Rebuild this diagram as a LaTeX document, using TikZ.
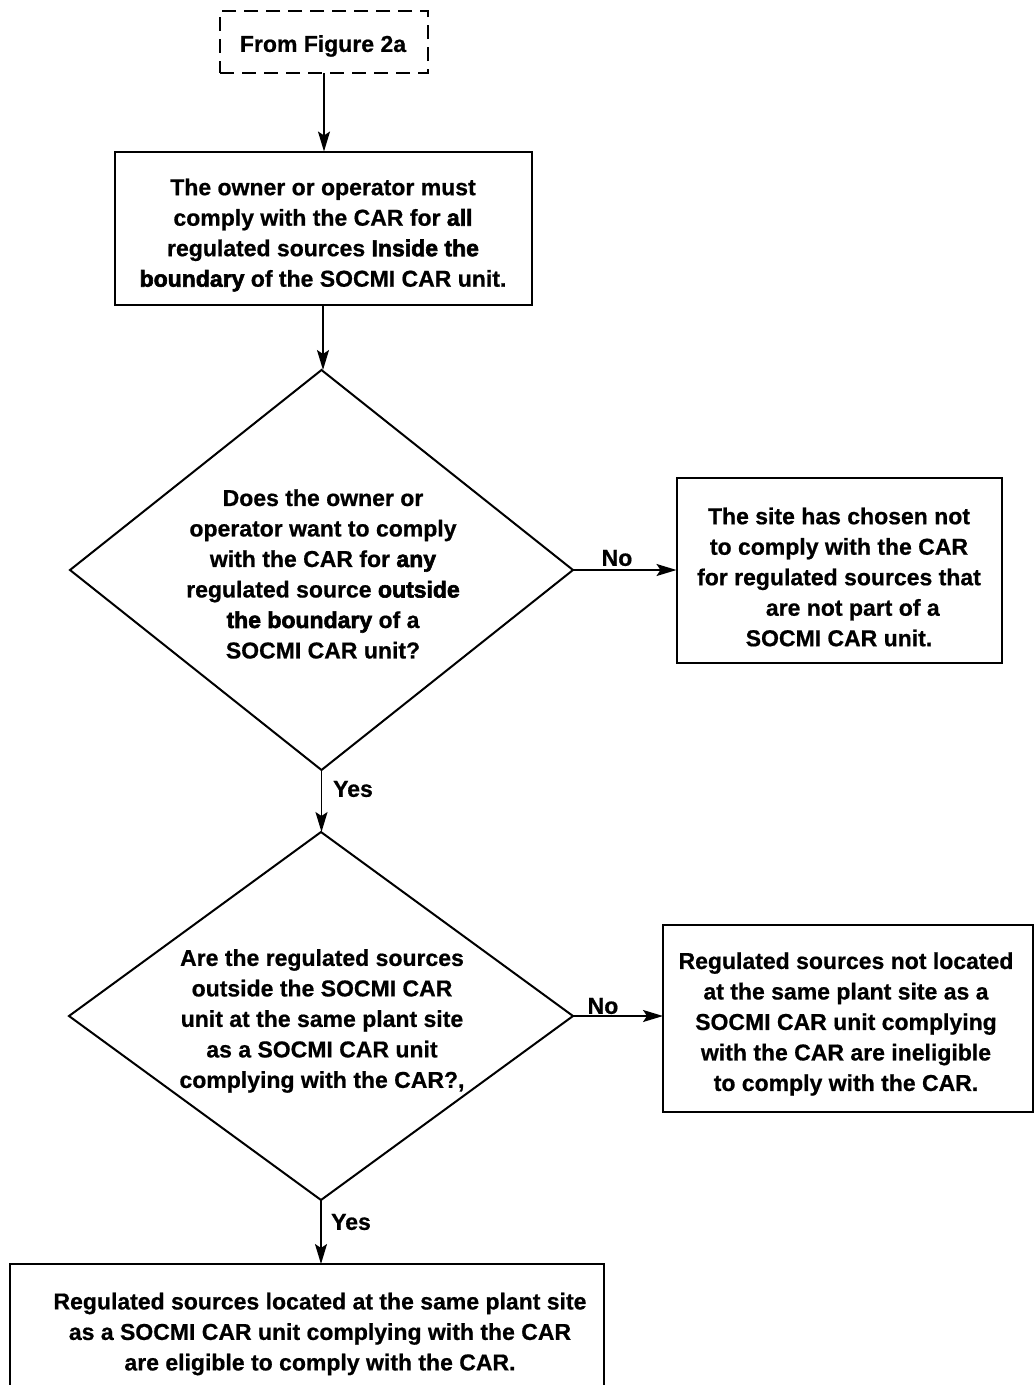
\documentclass[tikz,border=0pt]{standalone}
\usepackage{fontspec}
\setmainfont{Liberation Sans}[BoldFeatures={FakeBold=0.7}]
\newfontfamily\heavyfont{Liberation Sans Bold}[FakeBold=2.6]
\newcommand{\hv}[1]{{\heavyfont #1}}
\usetikzlibrary{shapes.geometric,arrows.meta}
\begin{document}
\begin{tikzpicture}[x=1pt,y=-1pt,
  box/.style={draw, line width=2pt, inner sep=0pt, outer sep=0pt},
  dec/.style={draw, diamond, line width=2pt, inner sep=0pt, outer sep=0pt},
  txt/.style={font=\fontsize{23}{30.5}\selectfont\bfseries, align=center, inner sep=0pt},
  lbl/.style={font=\fontsize{23}{28}\selectfont\bfseries, inner sep=0pt},
  arr/.style={line width=1.8pt, -{Stealth[length=20pt,width=12pt,inset=4pt]}}]
\useasboundingbox (0,0) rectangle (1034,1385);
\clip (0,0) rectangle (1034,1385);
\fill[white] (0,0) rectangle (1034,1385);

% start (dashed)
\node[box, dash pattern=on 14pt off 8pt, minimum width=208pt, minimum height=62pt] (start) at (324,42) {};
\node[txt] (starttxt) at (323,46) {From Figure 2a};

% box 1
\node[box, minimum width=417pt, minimum height=153pt] (box1) at (323,228) {};
\node[txt] (box1txt) at (323,235) {The owner or operator must\\comply with the CAR for \hv{all}\\regulated sources \hv{Inside the}\\\hv{boundary} of the SOCMI CAR unit.};

% diamond 1
\node[dec, minimum width=503pt, minimum height=400pt] (dia1) at (321.5,570) {};
\node[txt] (dia1txt) at (323,574) {Does the owner or\\operator want to comply\\with the CAR for \hv{any}\\regulated source \hv{outside}\\\hv{the boundary} of a\\SOCMI CAR unit?};

% box 2
\node[box, minimum width=325pt, minimum height=185pt] (box2) at (839,570.5) {};
\node[txt] (box2txt) at (839,577) {The site has chosen not\\to comply with the CAR\\for regulated sources that\\\hspace*{1.2em}are not part of a\\SOCMI CAR unit.};

% diamond 2
\node[dec, minimum width=504pt, minimum height=368pt] (dia2) at (321,1016) {};
\node[txt] (dia2txt) at (322,1021) {Are the regulated sources\\outside the SOCMI CAR\\unit at the same plant site\\as a SOCMI CAR unit\\complying with the CAR?,};

% box 3
\node[box, minimum width=370pt, minimum height=187pt] (box3) at (848,1018.5) {};
\node[txt] (box3txt) at (846,1024) {Regulated sources not located\\at the same plant site as a\\SOCMI CAR unit complying\\with the CAR are ineligible\\to comply with the CAR.};

% box 4
\node[box, minimum width=594pt, minimum height=150pt] (box4) at (307,1339) {};
\node[txt] (box4txt) at (320,1334) {Regulated sources located at the same plant site\\as a SOCMI CAR unit complying with the CAR\\are eligible to comply with the CAR.};

% connectors
\draw[arr] (start.south) -- (start.south |- box1.north);
\draw[arr] (box1.south) -- (box1.south |- dia1.north);
\draw[arr] (dia1.east) -- (dia1.east -| box2.west);
\draw[arr] (dia1.south) -- (dia1.south |- dia2.north);
\draw[arr] (dia2.east) -- (dia2.east -| box3.west);
\draw[arr] (dia2.south) -- (dia2.south |- box4.north);

% labels
\node[lbl] (no1) at (617,558) {No};
\node[lbl] (yes1) at (353,789) {Yes};
\node[lbl] (no2) at (603,1006) {No};
\node[lbl] (yes2) at (351,1222) {Yes};
\end{tikzpicture}
\end{document}
